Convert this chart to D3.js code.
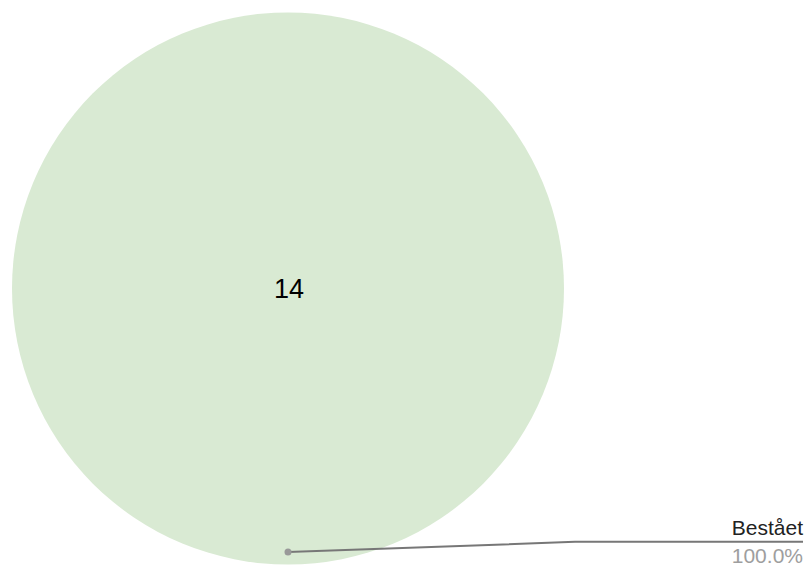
<!DOCTYPE html>
<html>
<head>
<meta charset="utf-8">
<script src="https://cdn.jsdelivr.net/npm/d3@7"></script>
<style>
  body { margin: 0; background: #fff; }
  svg { display: block; font-family: "Liberation Sans", Arial, sans-serif; }
</style>
</head>
<body>
<div id="chart"></div>
<script>
const categories = ["Bestået"];
const counts = [14];
const colors = ["#d9ead3"];

const width = 811, height = 566;
const cx = 288, cy = 288.5, radius = 276;

const data = categories.map((c, i) => ({ category: c, count: counts[i], color: colors[i] }));
const total = d3.sum(counts);

const svg = d3.select("#chart")
  .append("svg")
  .attr("width", width)
  .attr("height", height);

const pie = d3.pie().sort(null).value(d => d.count);
const arcs = pie(data);

const arc = d3.arc().innerRadius(0).outerRadius(radius);
const pointArc = d3.arc().innerRadius(radius * 0.955).outerRadius(radius * 0.955);

const g = svg.append("g").attr("transform", `translate(${cx},${cy})`);

g.selectAll("path.slice")
  .data(arcs)
  .enter()
  .append("path")
  .attr("class", "slice")
  .attr("d", arc)
  .attr("fill", d => d.data.color);

// value in the middle of the slice
g.selectAll("text.value")
  .data(arcs)
  .enter()
  .append("text")
  .attr("class", "value")
  .attr("x", 1)
  .attr("y", 9.5)
  .attr("text-anchor", "middle")
  .attr("font-size", 27)
  .attr("fill", "#000")
  .text(d => d.data.count);

// callout labels
const lineY = 541.8 - cy, elbowX = 575 - cx, endX = 803 - cx;

const callout = g.selectAll("g.callout")
  .data(arcs)
  .enter()
  .append("g")
  .attr("class", "callout");

callout.append("polyline")
  .attr("points", d => {
    const [px, py] = pointArc.centroid(d);
    return [[px, py], [elbowX, lineY], [endX, lineY]].map(p => p.join(",")).join(" ");
  })
  .attr("fill", "none")
  .attr("stroke", "#777")
  .attr("stroke-width", 2);

callout.append("circle")
  .attr("cx", d => pointArc.centroid(d)[0])
  .attr("cy", d => pointArc.centroid(d)[1])
  .attr("r", 3.5)
  .attr("fill", "#999");

callout.append("text")
  .attr("x", endX)
  .attr("y", lineY - 7)
  .attr("text-anchor", "end")
  .attr("font-size", 21)
  .attr("fill", "#222")
  .text(d => d.data.category);

callout.append("text")
  .attr("x", endX)
  .attr("y", lineY + 21)
  .attr("text-anchor", "end")
  .attr("font-size", 21)
  .attr("fill", "#9e9e9e")
  .text(d => (d.data.count / total * 100).toFixed(1) + "%");
</script>
</body>
</html>
